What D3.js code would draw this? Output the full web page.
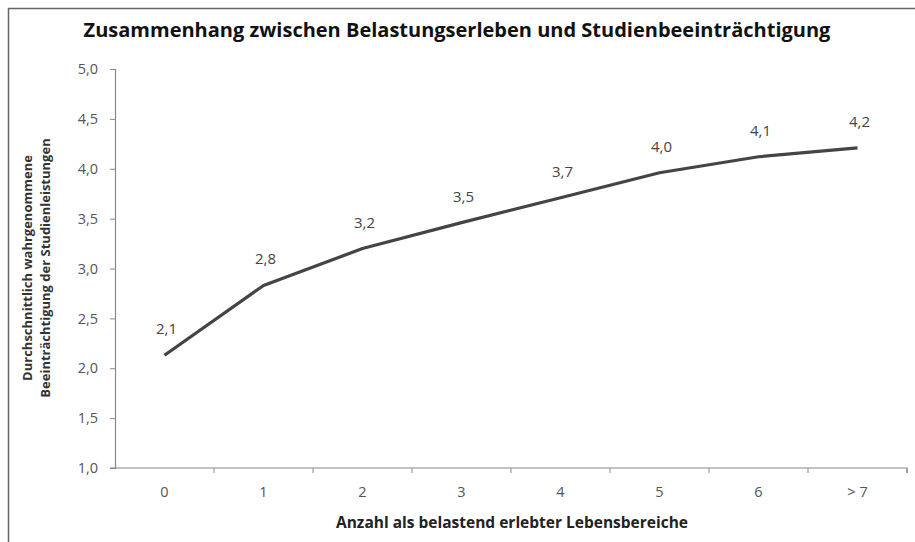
<!DOCTYPE html>
<html>
<head>
<meta charset="utf-8">
<script src="https://cdn.jsdelivr.net/npm/d3@7/dist/d3.min.js"></script>
<style>
  body { margin: 0; background: #fff; }
  text { font-family: "Open Sans", "DejaVu Sans", sans-serif; }
</style>
</head>
<body>
<div class="chart"></div>
<script>
// Data
var categories = ["0", "1", "2", "3", "4", "5", "6", "> 7"];
var values = [2.13, 2.83, 3.20, 3.46, 3.71, 3.96, 4.12, 4.21];
var valueLabels = ["2,1", "2,8", "3,2", "3,5", "3,7", "4,0", "4,1", "4,2"];
var yTicks = [1.0, 1.5, 2.0, 2.5, 3.0, 3.5, 4.0, 4.5, 5.0];

var svgWidth = 915;
var svgHeight = 542;

var margin = { top: 69, right: 8, bottom: 74, left: 115 };
var width = svgWidth - margin.left - margin.right;
var height = svgHeight - margin.top - margin.bottom;

var svg = d3.select(".chart")
  .append("svg")
  .attr("width", svgWidth)
  .attr("height", svgHeight);

// Frame (cut at right and bottom like in the original screenshot)
svg.append("path")
  .attr("d", "M8.5," + svgHeight + " V8.5 H" + svgWidth)
  .attr("fill", "none")
  .attr("stroke", "#666")
  .attr("stroke-width", 1.5);

// Title
svg.append("text")
  .attr("x", 457)
  .attr("y", 37)
  .attr("text-anchor", "middle")
  .attr("font-size", "20px")
  .attr("font-weight", "bold")
  .attr("fill", "#111")
  .text("Zusammenhang zwischen Belastungserleben und Studienbeeinträchtigung");

var chartGroup = svg.append("g")
  .attr("transform", `translate(${margin.left}, ${margin.top})`);

// Scales
var xScale = d3.scaleBand()
  .domain(categories)
  .range([0, width]);

var yScale = d3.scaleLinear()
  .domain([1, 5])
  .range([height, 0]);

// Axes
var fmt = d => d3.format(".1f")(d).replace(".", ",");

var leftAxis = d3.axisLeft(yScale)
  .tickValues(yTicks)
  .tickFormat(fmt)
  .tickSize(5)
  .tickPadding(12);

var bottomAxis = d3.axisBottom(xScale)
  .tickSize(0)
  .tickPadding(19);

var yAxisG = chartGroup.append("g").call(leftAxis);
var xAxisG = chartGroup.append("g")
  .attr("transform", `translate(0, ${height})`)
  .call(bottomAxis);

// Category boundary ticks on the x axis
xAxisG.selectAll(".boundary")
  .data(categories)
  .enter()
  .append("line")
  .attr("class", "boundary")
  .attr("x1", d => xScale(d) + xScale.bandwidth())
  .attr("x2", d => xScale(d) + xScale.bandwidth())
  .attr("y1", 0)
  .attr("y2", 5)
  .attr("stroke", "#888");

[yAxisG, xAxisG].forEach(function(g) {
  g.select(".domain").attr("stroke", "#888").attr("stroke-width", 1.2);
  g.selectAll(".tick line").attr("stroke", "#888");
  g.selectAll(".tick text")
    .attr("fill", "#555")
    .attr("font-size", "14.5px")
    .style("font-family", "\"Open Sans\", sans-serif");
});
xAxisG.select(".domain").attr("d", `M-5,0H${width}V5`);

// Line
var line = d3.line()
  .x((d, i) => xScale(categories[i]) + xScale.bandwidth() / 2)
  .y(d => yScale(d));

chartGroup.append("path")
  .datum(values)
  .attr("d", line)
  .attr("fill", "none")
  .attr("stroke", "#444")
  .attr("stroke-width", 3.2)
  .attr("stroke-linejoin", "round");

// Data labels
chartGroup.selectAll(".vlabel")
  .data(values)
  .enter()
  .append("text")
  .attr("class", "vlabel")
  .attr("x", (d, i) => xScale(categories[i]) + xScale.bandwidth() / 2 + 2)
  .attr("y", d => yScale(d) - 21)
  .attr("text-anchor", "middle")
  .attr("font-size", "15px")
  .attr("fill", "#444")
  .text((d, i) => valueLabels[i]);

// Axis labels
svg.append("text")
  .attr("transform", "translate(32, 268) rotate(-90)")
  .attr("text-anchor", "middle")
  .attr("font-size", "13px")
  .attr("font-weight", "bold")
  .attr("fill", "#333")
  .text("Durchschnittlich wahrgenommene");

svg.append("text")
  .attr("transform", "translate(50, 268) rotate(-90)")
  .attr("text-anchor", "middle")
  .attr("font-size", "13px")
  .attr("font-weight", "bold")
  .attr("fill", "#333")
  .text("Beeinträchtigung der Studienleistungen");

svg.append("text")
  .attr("x", 512)
  .attr("y", 528)
  .attr("text-anchor", "middle")
  .attr("font-size", "15.5px")
  .attr("font-weight", "bold")
  .attr("fill", "#222")
  .text("Anzahl als belastend erlebter Lebensbereiche");
</script>
</body>
</html>
